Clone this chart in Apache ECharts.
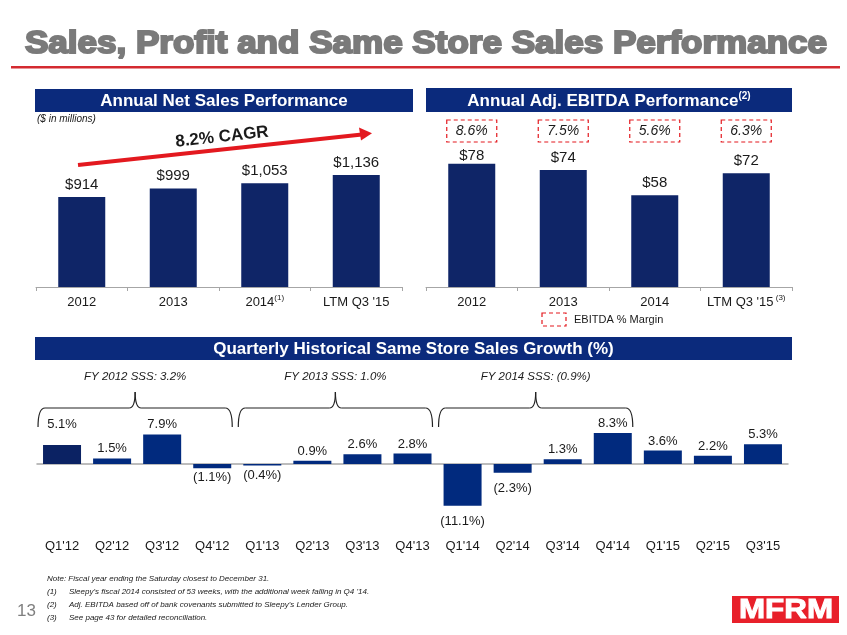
<!DOCTYPE html>
<html><head><meta charset="utf-8">
<script src="https://cdn.jsdelivr.net/npm/echarts@6/dist/echarts.min.js"></script>
<style>html,body{margin:0;padding:0;background:#fff}#c{width:847px;height:635px}</style>
</head><body><div id="c"></div>
<script>
// ---------- DATA ----------
const salesYears = ['2012', '2013', '2014', "LTM Q3 '15"];
const salesNotes = ['', '', '(1)', ''];
const salesValues = [914, 999, 1053, 1136];
const cagrLabel = '8.2% CAGR';

const ebitdaYears = ['2012', '2013', '2014', "LTM Q3 '15"];
const ebitdaNotes = ['', '', '', '(3)'];
const ebitdaValues = [78, 74, 58, 72];
const ebitdaMargins = ['8.6%', '7.5%', '5.6%', '6.3%'];

const quarters = ["Q1'12", "Q2'12", "Q3'12", "Q4'12", "Q1'13", "Q2'13", "Q3'13", "Q4'13",
                  "Q1'14", "Q2'14", "Q3'14", "Q4'14", "Q1'15", "Q2'15", "Q3'15"];
const sssValues = [5.1, 1.5, 7.9, -1.1, -0.4, 0.9, 2.6, 2.8, -11.1, -2.3, 1.3, 8.3, 3.6, 2.2, 5.3];
const fyLabels = ['FY 2012 SSS: 3.2%', 'FY 2013 SSS: 1.0%', 'FY 2014 SSS: (0.9%)'];
const fyStarts = [0, 4, 8];

const notes = [
  ['', 'Note: Fiscal year ending the Saturday closest to December 31.'],
  ['(1)', "Sleepy's fiscal 2014 consisted of 53 weeks, with the additional week falling in Q4 '14."],
  ['(2)', "Adj. EBITDA based off of bank covenants submitted to Sleepy's Lender Group."],
  ['(3)', 'See page 43 for detailed reconciliation.']
];

// ---------- STYLE ----------
const FONT = 'Liberation Sans, Arial, sans-serif';
const NAVY = '#0b2a7c';
const BAR = '#0f2567';
const BAR2 = '#012a7e';
const RED = '#e3191f';
const AXIS = '#a6a6a6';
const TXT = '#1a1a1a';

function catLabel(notesArr, sep) {
  return function (v, i) {
    const n = notesArr[i];
    return n ? '{a|' + v + '}{s|' + sep + n + '}' : '{a|' + v + '}';
  };
}
const catRich = {
  a: { fontSize: 13, color: TXT, fontFamily: FONT, lineHeight: 16 },
  s: { fontSize: 8, color: TXT, fontFamily: FONT, verticalAlign: 'top', lineHeight: 8 }
};
function fmtSss(v) { return v < 0 ? '(' + Math.abs(v).toFixed(1) + '%)' : v.toFixed(1) + '%'; }

const chart = echarts.init(document.getElementById('c'), null, { renderer: 'canvas' });

chart.setOption({
  animation: false,
  backgroundColor: '#ffffff',
  grid: [
    { left: 36, width: 366, top: 149, height: 138 },
    { left: 426, width: 366, top: 129, height: 158 },
    { left: 37, width: 751, top: 426.5, height: 93.75 }
  ],
  xAxis: [
    { type: 'category', gridIndex: 0, data: salesYears,
      axisLine: { lineStyle: { color: AXIS, width: 1 } },
      axisTick: { show: true, length: 4, lineStyle: { color: AXIS } },
      axisLabel: { interval: 0, margin: 7, formatter: catLabel(salesNotes, ''), rich: catRich } },
    { type: 'category', gridIndex: 1, data: ebitdaYears,
      axisLine: { lineStyle: { color: AXIS, width: 1 } },
      axisTick: { show: true, length: 4, lineStyle: { color: AXIS } },
      axisLabel: { interval: 0, margin: 7, formatter: catLabel(ebitdaNotes, ' '), rich: catRich } },
    { type: 'category', gridIndex: 2, data: quarters,
      axisLine: { onZero: true, lineStyle: { color: AXIS, width: 1.5 } },
      axisTick: { show: false }, axisLabel: { show: false } },
    { type: 'category', gridIndex: 2, data: quarters, position: 'bottom',
      axisLine: { show: false, onZero: false }, axisTick: { show: false },
      axisLabel: { interval: 0, margin: 20, fontSize: 13, color: TXT, fontFamily: FONT } }
  ],
  yAxis: [
    { type: 'value', gridIndex: 0, min: 0, max: 1400, show: false, splitLine: { show: false } },
    { type: 'value', gridIndex: 1, min: 0, max: 100, show: false, splitLine: { show: false } },
    { type: 'value', gridIndex: 2, min: -15, max: 10, show: false, splitLine: { show: false } }
  ],
  series: [
    { type: 'bar', xAxisIndex: 0, yAxisIndex: 0, data: salesValues, barWidth: 47,
      itemStyle: { color: BAR },
      label: { show: true, position: 'top', distance: 5, fontSize: 15, color: TXT, fontFamily: FONT,
        formatter: p => '$' + p.value.toLocaleString('en-US') } },
    { type: 'bar', xAxisIndex: 1, yAxisIndex: 1, barWidth: 47,
      data: ebitdaValues.map((v, i) => i === 0 ? { value: v, label: { distance: 0 } } : v),
      itemStyle: { color: BAR },
      label: { show: true, position: 'top', distance: 5, fontSize: 15, color: TXT, fontFamily: FONT,
        formatter: p => '$' + p.value } },
    { type: 'bar', xAxisIndex: 2, yAxisIndex: 2, barWidth: 38,
      data: sssValues.map((v, i) => {
        const d = { value: v, label: { position: v < 0 ? 'bottom' : 'top' } };
        if (i === 0) { d.itemStyle = { color: '#0b2263' }; d.label.offset = [0, -11]; }
        if (v < -2) d.label.distance = 9;
        return d;
      }),
      itemStyle: { color: BAR2 },
      label: { show: true, distance: 3, fontSize: 13, color: TXT, fontFamily: FONT,
        formatter: p => fmtSss(p.value) } }
  ]
});

// ---------- ANNOTATIONS ----------
const g = [];
// title
g.push({ type: 'text', x: 426, y: 44, scaleX: 1.13, style: { text: 'Sales, Profit and Same Store Sales Performance',
  font: 'bold 31px ' + FONT, fill: '#7a7a7a', stroke: '#7a7a7a', lineWidth: 2,
  textAlign: 'center', textVerticalAlign: 'middle' } });
g.push({ type: 'rect', shape: { x: 11, y: 66, width: 829, height: 2.5 }, style: { fill: '#d42a30' } });

// header bars
function header(x, y, w, h, text, rich) {
  g.push({ type: 'rect', shape: { x: x, y: y, width: w, height: h }, style: { fill: NAVY } });
  g.push({ type: 'text', x: x + w / 2, y: y + h / 2 + 1, style: { text: text, rich: rich,
    font: 'bold 17px ' + FONT, fill: '#fff', textAlign: 'center', textVerticalAlign: 'middle' } });
}
header(35, 89, 378, 23, 'Annual Net Sales Performance');
header(426, 88, 366, 24, '{a|Annual Adj. EBITDA Performance}{s|(2)}', {
  a: { font: 'bold 17px ' + FONT, fill: '#fff', lineHeight: 20 },
  s: { font: 'bold 10px ' + FONT, fill: '#fff', verticalAlign: 'top', lineHeight: 10 } });
header(35, 337, 757, 23, 'Quarterly Historical Same Store Sales Growth (%)');

g.push({ type: 'text', x: 37, y: 119, style: { text: '($ in millions)', font: 'italic 10px ' + FONT,
  fill: TXT, textVerticalAlign: 'middle' } });

// CAGR arrow
g.push({ type: 'line', shape: { x1: 78, y1: 165, x2: 362, y2: 134.5 }, style: { stroke: RED, lineWidth: 4 } });
g.push({ type: 'polygon', shape: { points: [[372, 133.3], [359, 127.5], [361, 140.5]] }, style: { fill: RED } });
g.push({ type: 'text', x: 222, y: 137, rotation: 0.109, style: { text: cagrLabel, font: 'bold 17px ' + FONT,
  fill: TXT, textAlign: 'center', textVerticalAlign: 'middle' } });

// EBITDA margin boxes
ebitdaMargins.forEach((m, i) => {
  const p = chart.convertToPixel({ seriesIndex: 1 }, [i, 0]);
  g.push({ type: 'rect', shape: { x: p[0] - 25, y: 120, width: 50, height: 22 },
    style: { fill: 'none', stroke: RED, lineWidth: 1.2, lineDash: [4, 3] } });
  g.push({ type: 'text', x: p[0], y: 131, style: { text: m, font: 'italic 14px ' + FONT, fill: TXT,
    textAlign: 'center', textVerticalAlign: 'middle' } });
});
// legend
g.push({ type: 'rect', shape: { x: 542, y: 313, width: 24, height: 13 },
  style: { fill: 'none', stroke: RED, lineWidth: 1.2, lineDash: [4, 3] } });
g.push({ type: 'text', x: 574, y: 320, style: { text: 'EBITDA % Margin', font: '11px ' + FONT, fill: TXT,
  textVerticalAlign: 'middle' } });

// FY braces
const braceStyle = { fill: 'none', stroke: '#222', lineWidth: 1.2 };
fyStarts.forEach((s, k) => {
  const a = chart.convertToPixel({ seriesIndex: 2 }, [s, 0]);
  const b = chart.convertToPixel({ seriesIndex: 2 }, [s + 3, 0]);
  const x1 = a[0] - 24, x2 = b[0] + 20, xm = (x1 + x2) / 2;
  const yb = 427, yh = 408, yt = 392;
  g.push({ type: 'bezierCurve', shape: { x1: x1, y1: yb, cpx1: x1, cpy1: yh, x2: x1 + 7, y2: yh }, style: braceStyle });
  g.push({ type: 'line', shape: { x1: x1 + 7, y1: yh, x2: xm - 6, y2: yh }, style: braceStyle });
  g.push({ type: 'bezierCurve', shape: { x1: xm - 6, y1: yh, cpx1: xm, cpy1: yh, x2: xm, y2: yt }, style: braceStyle });
  g.push({ type: 'bezierCurve', shape: { x1: xm, y1: yt, cpx1: xm, cpy1: yh, x2: xm + 6, y2: yh }, style: braceStyle });
  g.push({ type: 'line', shape: { x1: xm + 6, y1: yh, x2: x2 - 7, y2: yh }, style: braceStyle });
  g.push({ type: 'bezierCurve', shape: { x1: x2 - 7, y1: yh, cpx1: x2, cpy1: yh, x2: x2, y2: yb }, style: braceStyle });
  g.push({ type: 'text', x: xm, y: 377, style: { text: fyLabels[k], font: 'italic 11.5px ' + FONT, fill: TXT,
    textAlign: 'center', textVerticalAlign: 'middle' } });
});

// footnotes
notes.forEach((n, i) => {
  const y = 579 + i * 13;
  if (n[0]) g.push({ type: 'text', x: 47, y: y, style: { text: n[0], font: 'italic 8px ' + FONT, fill: TXT, textVerticalAlign: 'middle' } });
  g.push({ type: 'text', x: n[0] ? 69 : 47, y: y, style: { text: n[1], font: 'italic 8px ' + FONT, fill: TXT, textVerticalAlign: 'middle' } });
});
g.push({ type: 'text', x: 17, y: 611, style: { text: '13', font: '17px ' + FONT, fill: '#7f7f7f', textVerticalAlign: 'middle' } });

// logo
g.push({ type: 'rect', shape: { x: 732, y: 596, width: 107, height: 27 }, style: { fill: '#e8202a' } });
g.push({ type: 'text', x: 786, y: 610, scaleX: 1.12, style: { text: 'MFRM', font: 'bold 28px ' + FONT, fill: '#fff',
  stroke: '#fff', lineWidth: 1, textAlign: 'center', textVerticalAlign: 'middle' } });

chart.setOption({ graphic: g });
</script>
</body></html>
